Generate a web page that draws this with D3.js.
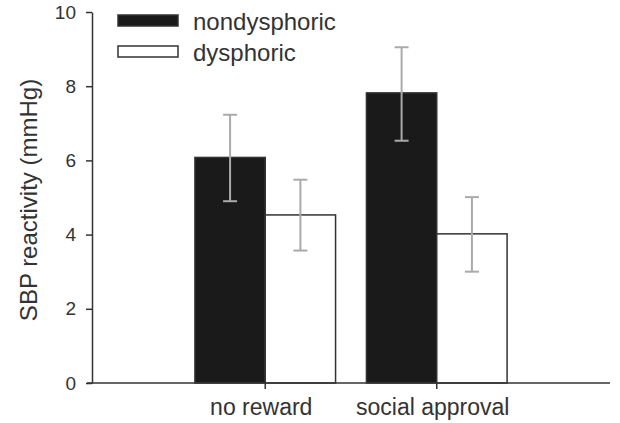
<!DOCTYPE html>
<meta charset="utf-8">
<script src="https://d3js.org/d3.v7.min.js"></script>
<style>
body { margin: 0; background: #fff; }
text { font-family: "Liberation Sans", Arial, sans-serif; fill: #333; }
</style>
<div id="my_dataviz"></div>
<script>

// data
var categories = ["no reward", "social approval"];
var groups = ["nondysphoric", "dysphoric"];
var means = [[6.08, 4.53], [7.82, 4.02]];
var errLow = [[4.90, 3.57], [6.53, 3.00]];
var errHigh = [[7.23, 5.48], [9.05, 5.01]];
var yTicks = [0, 2, 4, 6, 8, 10];

var width = 620, height = 423;
var margin = {top: 12, right: 10, bottom: 40, left: 92};

var svg = d3.select("#my_dataviz")
  .append("svg")
    .attr("width", width)
    .attr("height", height);

var y = d3.scaleLinear()
  .domain([0, 10])
  .range([383, 12]);

var x0 = d3.scaleBand()
  .domain(categories)
  .range([margin.left, 610])
  .paddingInner(0.18)
  .paddingOuter(0.6);

var x1 = d3.scaleBand()
  .domain(groups)
  .range([0, x0.bandwidth()]);

var fills = {"nondysphoric": "#1a1a1a", "dysphoric": "#ffffff"};

// bars
var rows = [];
categories.forEach(function(c, i) {
  groups.forEach(function(g, j) {
    rows.push({cat: c, grp: g, v: means[i][j], lo: errLow[i][j], hi: errHigh[i][j]});
  });
});

svg.append("g")
  .selectAll("rect")
  .data(rows)
  .enter()
  .append("rect")
    .attr("x", function(d) { return x0(d.cat) + x1(d.grp); })
    .attr("y", function(d) { return y(d.v); })
    .attr("width", x1.bandwidth())
    .attr("height", function(d) { return y(0) - y(d.v); })
    .style("fill", function(d) { return fills[d.grp]; })
    .style("stroke", "#333")
    .style("stroke-width", 1.5);

// error bars
var eb = svg.append("g")
  .style("stroke", "#aaa")
  .style("stroke-width", 2);
rows.forEach(function(d) {
  var cx = x0(d.cat) + x1(d.grp) + x1.bandwidth() / 2;
  eb.append("line").attr("x1", cx).attr("x2", cx).attr("y1", y(d.lo)).attr("y2", y(d.hi));
  eb.append("line").attr("x1", cx - 7).attr("x2", cx + 7).attr("y1", y(d.lo)).attr("y2", y(d.lo));
  eb.append("line").attr("x1", cx - 7).attr("x2", cx + 7).attr("y1", y(d.hi)).attr("y2", y(d.hi));
});

// Y axis
var yAxis = svg.append("g")
  .attr("transform", "translate(" + margin.left + ",0)")
  .call(d3.axisLeft(y).tickValues(yTicks).tickSize(6).tickPadding(10).tickSizeOuter(0));
yAxis.selectAll("text").style("font-size", "19px");
yAxis.selectAll("line, path").style("stroke", "#333").style("stroke-width", 1.5);

// X axis
var xAxis = svg.append("g")
  .attr("transform", "translate(0," + y(0) + ")");
xAxis.append("line")
  .attr("x1", 87).attr("x2", 610)
  .style("stroke", "#333").style("stroke-width", 1.5);
xAxis.selectAll("tick")
  .data(categories)
  .enter()
  .append("line")
    .attr("x1", function(d) { return x0(d) + x0.bandwidth() / 2; })
    .attr("x2", function(d) { return x0(d) + x0.bandwidth() / 2; })
    .attr("y1", 0).attr("y2", 6)
    .style("stroke", "#333").style("stroke-width", 1.5);
xAxis.selectAll("labels")
  .data(categories)
  .enter()
  .append("text")
    .attr("x", function(d) { return x0(d) + x0.bandwidth() / 2 - 4; })
    .attr("y", 32)
    .attr("text-anchor", "middle")
    .style("font-size", "23px")
    .text(function(d) { return d; });

// Y label
svg.append("text")
  .attr("transform", "translate(37,200) rotate(-90)")
  .attr("text-anchor", "middle")
  .style("font-size", "24px")
  .text("SBP reactivity (mmHg)");

// legend
var legend = svg.append("g");
groups.forEach(function(g, i) {
  legend.append("rect")
    .attr("x", 118).attr("y", 15 + i * 31)
    .attr("width", 60).attr("height", 11)
    .style("fill", fills[g])
    .style("stroke", "#333")
    .style("stroke-width", 1.5);
  legend.append("text")
    .attr("x", 193).attr("y", 30 + i * 30.5)
    .style("font-size", "24px")
    .text(g);
});

</script>
